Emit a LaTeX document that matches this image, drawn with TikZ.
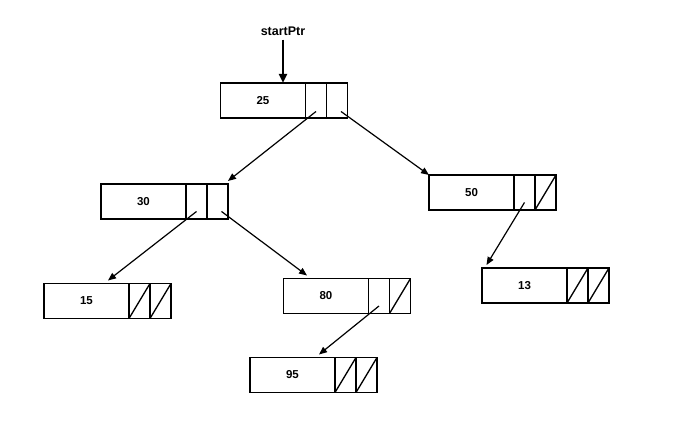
\documentclass[tikz,border=0pt]{standalone}
\usepackage{fontspec}
\setmainfont{Liberation Sans}
\usetikzlibrary{positioning,arrows.meta}

\begin{document}
\begin{tikzpicture}[x=1pt,y=-1pt]
% List node style
\tikzset{
    datapart/.style={draw,line width=1.8pt,minimum width=85pt,minimum height=35pt,
        inner sep=0pt,outer sep=0pt,font=\fontsize{11.5}{13}\selectfont\bfseries},
    ptrpart/.style={draw,line width=1.8pt,minimum width=21pt,minimum height=35pt,
        inner sep=0pt,outer sep=0pt},
    nullptr/.style={ptrpart,path picture={\draw[line width=1.3pt]
        (path picture bounding box.south west) -- (path picture bounding box.north east);}},
    link/.style={line width=1.2pt,-{Triangle[length=8pt,width=6.5pt]}}
}
\useasboundingbox (0,0) rectangle (673,427);
% Head pointer
\node[font=\fontsize{12.5}{14}\selectfont\bfseries,anchor=base] (start) at (283,36){startPtr};
% Nodes
\node[datapart] (n25) at (263,100.5){25};
\node[ptrpart,right=0pt of n25] (n25l){};
\node[ptrpart,right=0pt of n25l] (n25r){};

\node[datapart] (n30) at (143.5,201.5){30};
\node[ptrpart,right=0pt of n30] (n30l){};
\node[ptrpart,right=0pt of n30l] (n30r){};

\node[datapart] (n50) at (471.5,192.5){50};
\node[ptrpart,right=0pt of n50] (n50l){};
\node[nullptr,right=0pt of n50l] (n50r){};

\node[datapart] (n15) at (86.5,301){15};
\node[nullptr,right=0pt of n15] (n15l){};
\node[nullptr,right=0pt of n15l] (n15r){};

\node[datapart] (n80) at (326,296){80};
\node[ptrpart,right=0pt of n80] (n80l){};
\node[nullptr,right=0pt of n80l] (n80r){};

\node[datapart] (n13) at (524.5,285.5){13};
\node[nullptr,right=0pt of n13] (n13l){};
\node[nullptr,right=0pt of n13l] (n13r){};

\node[datapart] (n95) at (292.5,375){95};
\node[nullptr,right=0pt of n95] (n95l){};
\node[nullptr,right=0pt of n95l] (n95r){};
% Links
\draw[line width=2.4pt,-{Triangle[length=9pt,width=8pt]}] (start.south) -- (start |- n25.north);
\draw[link] ([yshift=-11pt]n25l.center) -- ([yshift=3pt]n30r.north east);
\draw[link] ([shift={(4pt,-11pt)}]n25r.center) -- (n50.north west);
\draw[link] ([yshift=-10pt]n30l.center) -- ([shift={(21.5pt,3pt)}]n15.north);
\draw[link] ([shift={(4pt,-10pt)}]n30r.center) -- ([shift={(-19pt,3pt)}]n80.north);
\draw[link] ([yshift=-10pt]n50l.center) -- ([shift={(-38pt,3pt)}]n13.north);
\draw[link] ([yshift=-10pt]n80l.center) -- ([shift={(26.5pt,3pt)}]n95.north);
\end{tikzpicture}
\end{document}
